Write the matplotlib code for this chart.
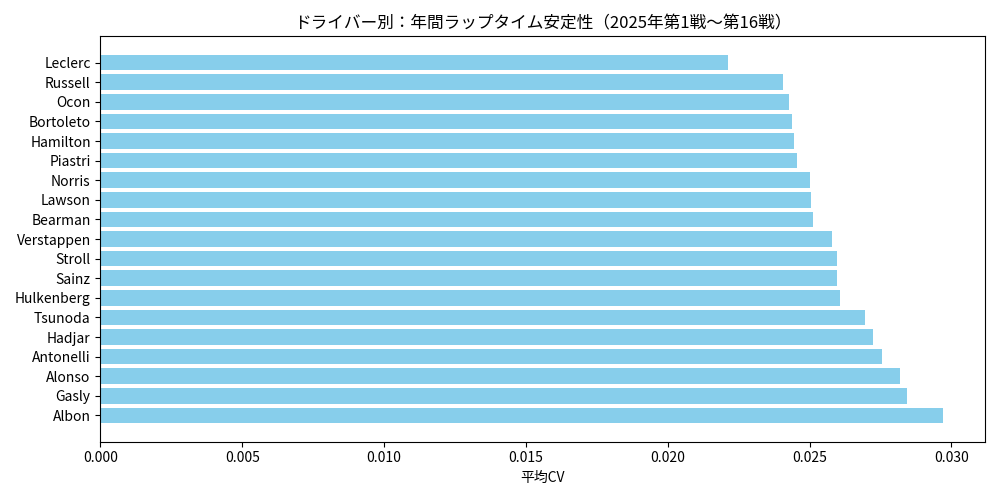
import matplotlib
matplotlib.use('Agg')
from matplotlib import pyplot as plt

# 全体を日本語フォントで描く
plt.rcParams['font.family'] = ['Noto Sans CJK JP', 'DejaVu Sans']

# ドライバー別の平均CV（上から順）
drivers = ['Leclerc', 'Russell', 'Ocon', 'Bortoleto', 'Hamilton', 'Piastri',
           'Norris', 'Lawson', 'Bearman', 'Verstappen', 'Stroll', 'Sainz',
           'Hulkenberg', 'Tsunoda', 'Hadjar', 'Antonelli', 'Alonso', 'Gasly',
           'Albon']
mean_cv = [0.02214, 0.02405, 0.02426, 0.02437, 0.02444, 0.02455,
           0.02500, 0.02504, 0.02511, 0.02578, 0.02596, 0.02596,
           0.02606, 0.02695, 0.02723, 0.02755, 0.02818, 0.02843,
           0.02970]

fig, ax = plt.subplots(figsize=(10, 5), dpi=100)
ax.barh(drivers, mean_cv, color='skyblue')
ax.invert_yaxis()
ax.set_xlabel('平均CV')
ax.set_title('ドライバー別：年間ラップタイム安定性（2025年第1戦～第16戦）')
plt.tight_layout()
plt.savefig('out.png')
